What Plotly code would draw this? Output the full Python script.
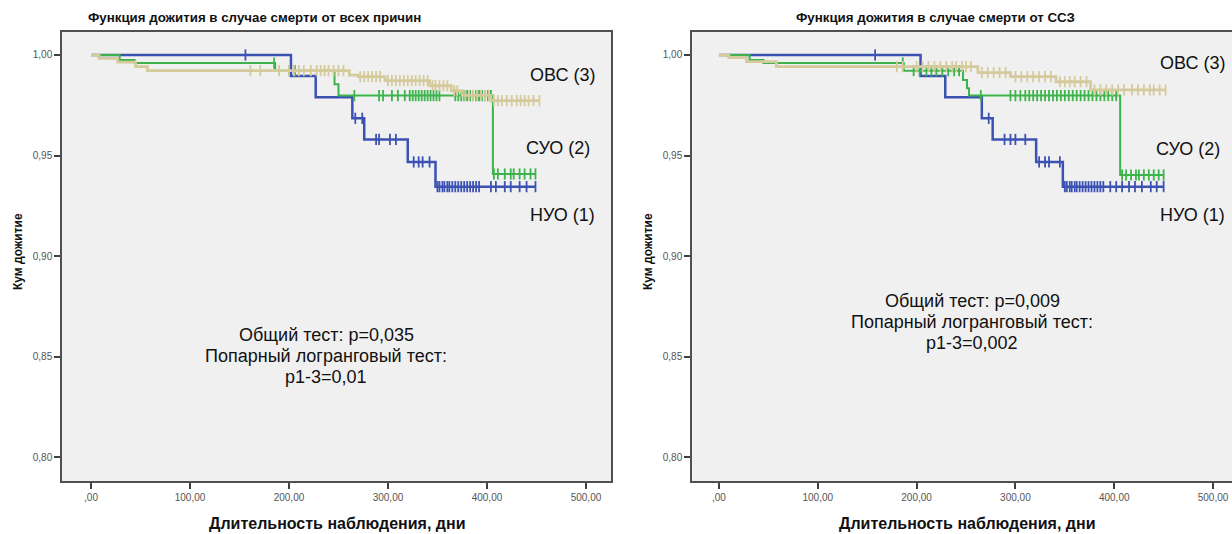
import numpy as np
import plotly.graph_objects as go

W, H = 1232, 534

# ---------------- DATA ----------------
# Panel 1: all-cause mortality
ac_nuo_times = [202, 227, 264, 276, 320, 348]
ac_nuo_surv = [0.9896, 0.9790, 0.9685, 0.9580, 0.9468, 0.9345]
ac_nuo_end = 449
ac_nuo_cens = [156, 267, 274, 288, 291, 302, 308, 326, 331, 335, 342,
               350, 352, 355, 357, 360, 362, 365, 368, 371, 374, 377, 380, 383,
               386, 389, 392, 404, 409, 418, 424, 433, 440, 449]

ac_suo_times = [29, 44, 186, 246, 250, 406]
ac_suo_surv = [0.9975, 0.9960, 0.9922, 0.9855, 0.9798, 0.9408]
ac_suo_end = 449
ac_suo_cens = [185, 200, 206, 266, 291, 295, 304, 310, 317, 322, 325, 328,
               331, 334, 337, 340, 343, 346, 349, 352, 368, 371, 374, 377, 380,
               383, 386, 389, 392, 395, 398, 401, 404, 407, 411, 418, 424,
               427, 433, 438, 444, 449]

ac_ovs_times = [8, 27, 45, 57, 261, 270, 297, 342, 364, 375, 404]
ac_ovs_surv = [0.9983, 0.9965, 0.9942, 0.9922, 0.9900, 0.9892, 0.9872,
               0.9847, 0.9822, 0.9799, 0.9773]
ac_ovs_end = 453
ac_ovs_cens = [161, 171, 190, 200, 205, 210, 215, 222, 228, 232, 236, 240,
               245, 250, 255, 272, 276, 280, 284, 288, 292, 300, 304, 308, 312,
               316, 320, 324, 328, 332, 336, 340, 345, 348, 352, 356, 360, 367,
               370, 378, 382, 386, 390, 394, 398, 402, 407, 411, 415, 420, 425,
               430, 434, 438, 442, 447, 453]

# Panel 2: cardiovascular mortality
cv_nuo_times = [204, 229, 266, 277, 321, 348]
cv_nuo_surv = [0.9896, 0.9790, 0.9685, 0.9580, 0.9468, 0.9345]
cv_nuo_end = 450
cv_nuo_cens = [158, 273, 289, 295, 300, 310, 324, 330, 334, 345,
               350, 352, 355, 357, 360, 362, 365, 368, 371, 374, 377, 380, 383,
               386, 389, 396, 402, 408, 415, 421, 428, 437, 443, 450]

cv_suo_times = [31, 45, 187, 247, 251, 253, 406]
cv_suo_surv = [0.9975, 0.9960, 0.9922, 0.9876, 0.9834, 0.9798, 0.9403]
cv_suo_end = 450
cv_suo_cens = [186, 197, 203, 210, 215, 220, 226, 232, 238, 243, 265, 295,
               300, 305, 310, 314, 318, 322, 326, 330, 334, 338, 342, 346, 350,
               354, 358, 362, 366, 370, 374, 378, 382, 386, 390, 394, 398, 402,
               408, 412, 417, 422, 425, 430, 435, 440, 445, 450]

cv_ovs_times = [10, 28, 58, 262, 295, 341, 376]
cv_ovs_surv = [0.9987, 0.9967, 0.9942, 0.9912, 0.9892, 0.9867, 0.9826]
cv_ovs_end = 452
cv_ovs_cens = [180, 186, 200, 206, 212, 218, 224, 230, 236, 240, 246, 250,
               255, 266, 272, 278, 284, 290, 300, 306, 312, 318, 324, 330, 336,
               345, 350, 355, 360, 366, 372, 380, 386, 392, 398, 404, 410, 418,
               424, 430, 436, 440, 446, 452]

x_tickvals = [0, 100, 200, 300, 400, 500]
x_ticktext = [",00", "100,00", "200,00", "300,00", "400,00", "500,00"]
y_tickvals = [0.80, 0.85, 0.90, 0.95, 1.00]
y_ticktext = ["0,80", "0,85", "0,90", "0,95", "1,00"]

panel_titles = ["Функция дожития в случае смерти от всех причин",
                "Функция дожития в случае смерти от ССЗ"]
x_title = "Длительность наблюдения, дни"
y_title = "Кум дожитие"
group_labels = ["ОВС (3)", "СУО (2)", "НУО (1)"]
stats_left = ["Общий тест: p=0,035", "Попарный логранговый тест:", "p1-3=0,01"]
stats_right = ["Общий тест: p=0,009", "Попарный логранговый тест:", "p1-3=0,002"]

# ---------------- STYLE ----------------
C_BLUE = "#3b52b2"
C_GREEN = "#3cb44b"
C_TAN = "#d5ca9b"
FONT = "Liberation Sans, Arial, sans-serif"


def px(x):
    return x / W


def py(y):
    return 1 - y / H


fig = go.Figure()


def add_group(times, surv, end, cens, color, xa, ya, lw):
    xs = [0] + list(times) + [end]
    ys = [1.0] + list(surv) + [surv[-1]]
    fig.add_trace(go.Scatter(x=xs, y=ys, mode="lines", line=dict(color=color, width=lw, shape="hv"),
                             xaxis=xa, yaxis=ya, showlegend=False, hoverinfo="skip"))
    t = np.array(times)
    s = np.array(surv)
    c = np.array(cens)
    k = np.searchsorted(t, c, side="right")
    cy = np.where(k == 0, 1.0, s[np.maximum(k - 1, 0)])
    fig.add_trace(go.Scatter(x=c, y=cy, mode="markers",
                             marker=dict(symbol="line-ns", size=8, color=color,
                                         line=dict(width=1.8, color=color)),
                             xaxis=xa, yaxis=ya, showlegend=False, hoverinfo="skip"))


add_group(ac_nuo_times, ac_nuo_surv, ac_nuo_end, ac_nuo_cens, C_BLUE, "x", "y", 2.5)
add_group(ac_suo_times, ac_suo_surv, ac_suo_end, ac_suo_cens, C_GREEN, "x", "y", 2.0)
add_group(ac_ovs_times, ac_ovs_surv, ac_ovs_end, ac_ovs_cens, C_TAN, "x", "y", 2.8)
add_group(cv_nuo_times, cv_nuo_surv, cv_nuo_end, cv_nuo_cens, C_BLUE, "x2", "y2", 2.5)
add_group(cv_suo_times, cv_suo_surv, cv_suo_end, cv_suo_cens, C_GREEN, "x2", "y2", 2.0)
add_group(cv_ovs_times, cv_ovs_surv, cv_ovs_end, cv_ovs_cens, C_TAN, "x2", "y2", 2.8)

ydom = [py(481), py(32)]
yrange = [0.78806, 1.01144]
axis_common = dict(showgrid=False, zeroline=False, showline=True, linecolor="#505050",
                   linewidth=1.5, ticks="outside", ticklen=6, tickwidth=1.5,
                   tickcolor="#404040", tickfont=dict(family=FONT, size=10, color="#555555"))

fig.update_layout(
    width=W, height=H,
    margin=dict(l=0, r=0, t=0, b=0),
    paper_bgcolor="white",
    plot_bgcolor="#f0f0f0",
    showlegend=False,
    xaxis=dict(domain=[px(62), px(611)], range=[-29.3, 525.3], tickvals=x_tickvals,
               ticktext=x_ticktext, mirror=True, anchor="y", **axis_common),
    yaxis=dict(domain=ydom, range=yrange, tickvals=y_tickvals, ticktext=y_ticktext,
               mirror=True, anchor="x", **axis_common),
    xaxis2=dict(domain=[px(692), 1.0], range=[-27.3, 519.2], tickvals=x_tickvals,
                ticktext=x_ticktext, mirror=True, anchor="y2", **axis_common),
    yaxis2=dict(domain=ydom, range=yrange, tickvals=y_tickvals, ticktext=y_ticktext,
                mirror=False, anchor="x2", **axis_common),
)

ann = []


def text(x, y, s, size, bold=False, angle=0, color="#111111"):
    ann.append(dict(x=px(x), y=py(y), xref="paper", yref="paper", text=(f"<b>{s}</b>" if bold else s),
                    showarrow=False, xanchor="center", yanchor="middle", textangle=angle,
                    font=dict(family=FONT, size=size, color=color)))


# titles
text(254, 18, panel_titles[0], 13.3, bold=True)
text(935, 18, panel_titles[1], 13.3, bold=True)
# axis titles
text(337, 523, x_title, 16, bold=True)
text(967, 523, x_title, 16, bold=True)
text(18, 252, y_title, 12, bold=True, angle=-90)
text(648, 252, y_title, 12, bold=True, angle=-90)
# group labels
for (x, y), s in zip([(562, 75), (558, 148), (562, 215)], group_labels):
    text(x, y, s, 18)
for (x, y), s in zip([(1192, 63), (1188, 149), (1192, 215)], group_labels):
    text(x, y, s, 18)
# statistics
for y, s in zip([335, 356, 377], stats_left):
    text(326, y, s, 18)
for y, s in zip([301, 322, 343], stats_right):
    text(972, y, s, 18)

fig.update_layout(annotations=ann)
fig.write_html("out.html")
